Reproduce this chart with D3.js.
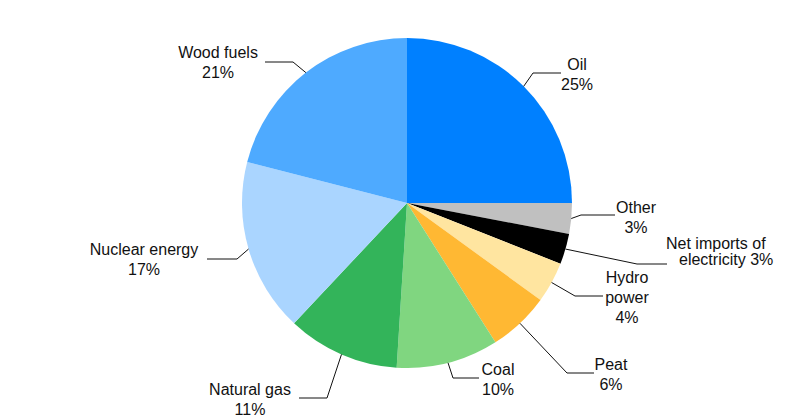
<!DOCTYPE html>
<html>
<head>
<meta charset="utf-8">
<script src="https://cdnjs.cloudflare.com/ajax/libs/d3/7.8.5/d3.min.js"></script>
<style>
  body { margin: 0; background: #fff; }
  text { font-family: "Liberation Sans", Arial, sans-serif; font-size: 16px; fill: #111; }
</style>
</head>
<body>
<div id="chart"></div>
<script>
// energy sources, clockwise from 12 o'clock
var sources = ["Oil", "Other", "Net imports of electricity", "Hydro power", "Peat", "Coal", "Natural gas", "Nuclear energy", "Wood fuels"];
var shares = [25, 3, 3, 4, 6, 10, 11, 17, 21];
var labelLines = [
	["Oil", "25%"],
	["Other", "3%"],
	["Net imports of", "electricity 3%"],
	["Hydro", "power", "4%"],
	["Peat", "6%"],
	["Coal", "10%"],
	["Natural gas", "11%"],
	["Nuclear energy", "17%"],
	["Wood fuels", "21%"]
];
var colors = ["#0080ff", "#c0c0c0", "#000000", "#ffe5a0", "#ffb833", "#80d680", "#33b45a", "#aad5ff", "#4eaaff"];

// label placement (leader elbow, leader end, text x/y)
var layout = [
	{ ex: 533, ey: 73, hx: 561, tx: 577, ty: 70, anchor: "middle" },
	{ ex: 581, ey: 215, hx: 615, tx: 636, ty: 213, anchor: "middle" },
	{ ex: 637, ey: 264, hx: 667, tx: 666, ty: 249, anchor: "start", indent: 13, gap: 16 },
	{ ex: 575, ey: 296, hx: 603, tx: 627, ty: 283, anchor: "middle" },
	{ ex: 567, ey: 373, hx: 594, tx: 611, ty: 370, anchor: "middle" },
	{ ex: 453, ey: 378, hx: 479, tx: 498, ty: 375, anchor: "middle" },
	{ ex: 327, ey: 398, hx: 299, tx: 250, ty: 395, anchor: "middle" },
	{ ex: 237, ey: 259, hx: 207, tx: 144, ty: 255, anchor: "middle" },
	{ ex: 293, ey: 62, hx: 265, tx: 218, ty: 58, anchor: "middle" }
];

var width = 798, height = 417;
var cx = 407, cy = 203, radius = 165;

var svg = d3.select("#chart")
	.append("svg")
	.attr("width", width)
	.attr("height", height);

var pie = d3.pie().sort(null).value(function(d) { return d; });
var arcs = pie(shares);

var arc = d3.arc().innerRadius(0).outerRadius(radius);

var g = svg.append("g").attr("transform", "translate(" + cx + "," + cy + ")");

g.selectAll(".slice")
	.data(arcs)
	.enter().append("path")
	.attr("class", "slice")
	.attr("d", arc)
	.style("fill", function(d, i) { return colors[i]; });

// leader lines from the rim at each slice's mid angle
svg.selectAll(".leader")
	.data(arcs)
	.enter().append("polyline")
	.attr("class", "leader")
	.attr("points", function(d, i) {
		var a = (d.startAngle + d.endAngle) / 2;
		var sx = cx + radius * Math.sin(a);
		var sy = cy - radius * Math.cos(a);
		var L = layout[i];
		return [[sx, sy], [L.ex, L.ey], [L.hx, L.ey]].join(" ");
	})
	.style("fill", "none")
	.style("stroke", "#111")
	.style("stroke-width", 1);

var labels = svg.selectAll(".lbl")
	.data(labelLines)
	.enter().append("text")
	.attr("class", "lbl")
	.attr("text-anchor", function(d, i) { return layout[i].anchor; });

labels.each(function(lines, i) {
	var L = layout[i];
	var t = d3.select(this);
	lines.forEach(function(s, j) {
		t.append("tspan")
			.attr("x", L.tx + (j > 0 && L.indent ? L.indent : 0))
			.attr("y", L.ty + j * (L.gap || 20))
			.text(s);
	});
});
</script>
</body>
</html>
